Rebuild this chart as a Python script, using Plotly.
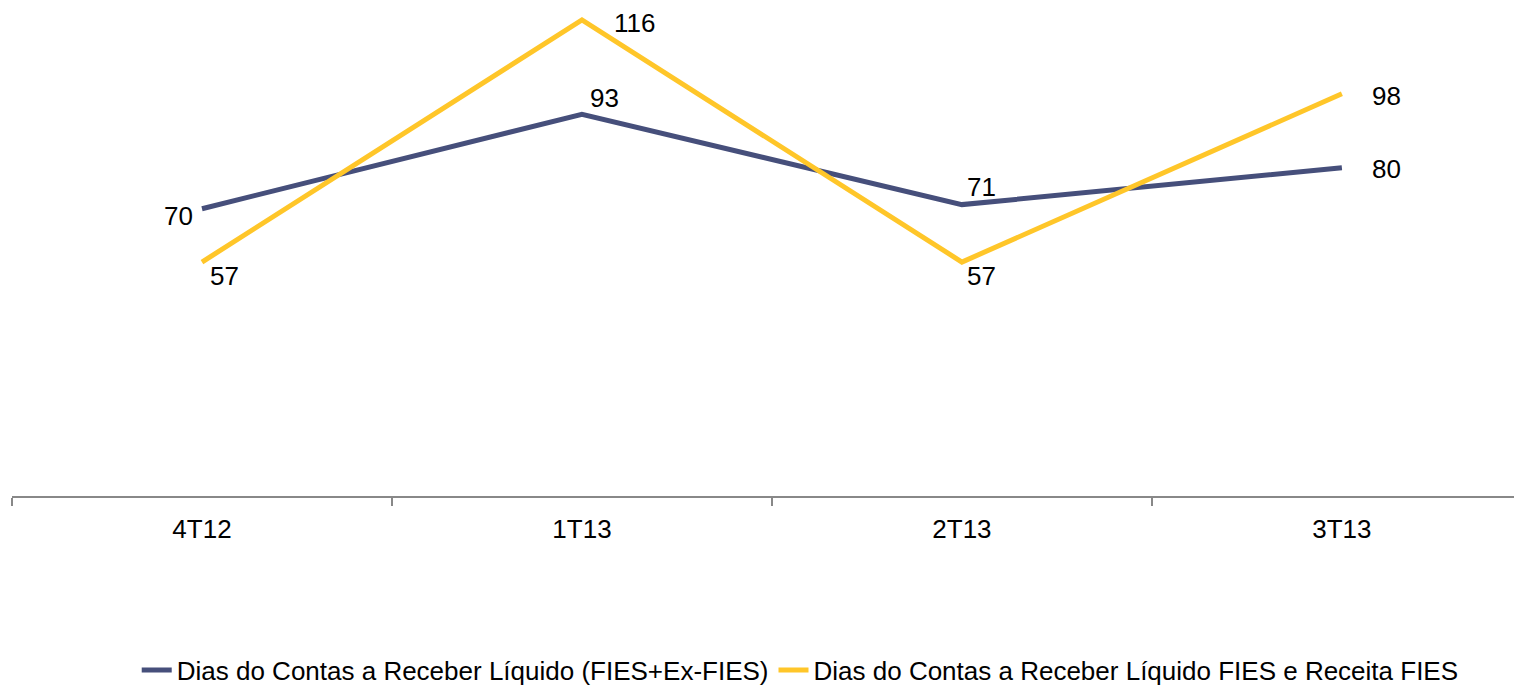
import plotly.graph_objects as go

categories = ["4T12", "1T13", "2T13", "3T13"]
series1_name = "Dias do Contas a Receber Líquido (FIES+Ex-FIES)"
series1 = [70, 93, 71, 80]
series2_name = "Dias do Contas a Receber Líquido FIES e Receita FIES"
series2 = [57, 116, 57, 98]

# label offsets in pixels (dx, dy) for each point's data label
offsets1 = [(-23, -7), (23, 16), (20, 18), (45, -1)]
offsets2 = [(23, -14), (53, -3), (20, -14), (45, -2)]

navy = "#464F7B"
yellow = "#FFC629"
font_family = "Liberation Sans, Arial, sans-serif"

fig = go.Figure()
fig.add_trace(go.Scatter(x=categories, y=series1, mode="lines", name=series1_name,
                         line=dict(color=navy, width=5)))
fig.add_trace(go.Scatter(x=categories, y=series2, mode="lines", name=series2_name,
                         line=dict(color=yellow, width=5)))

annotations = []
for vals, offs in ((series1, offsets1), (series2, offsets2)):
    for c, v, (dx, dy) in zip(categories, vals, offs):
        annotations.append(dict(x=c, y=v, text=str(v), showarrow=False,
                                xshift=dx, yshift=dy,
                                font=dict(size=26, color="#000000", family=font_family)))

# the page body adds an 8px offset, so the figure is 8px smaller
fig.update_layout(
    width=1514, height=680,
    margin=dict(l=4, r=0, t=0, b=192, autoexpand=False),
    paper_bgcolor="white", plot_bgcolor="rgba(0,0,0,0)",
    font=dict(family=font_family, size=26, color="#000000"),
    showlegend=True,
    legend=dict(orientation="h", x=0.522, xanchor="center", y=-0.3566, yanchor="middle",
                font=dict(size=26), bgcolor="rgba(0,0,0,0)", itemwidth=30,
                tracegroupgap=0),
    annotations=annotations,
)
fig.update_xaxes(type="category", range=[-0.5, 3.474], tickson="boundaries",
                 ticks="outside", ticklen=8, tickcolor="#888888", tickwidth=1.5,
                 showline=True, linecolor="#888888", linewidth=1.5,
                 showgrid=False, zeroline=False, ticklabelstandoff=9,
                 tickfont=dict(size=26))
fig.update_yaxes(range=[0, 118.9], visible=False, showgrid=False, zeroline=False)

fig.write_html("out.html")
